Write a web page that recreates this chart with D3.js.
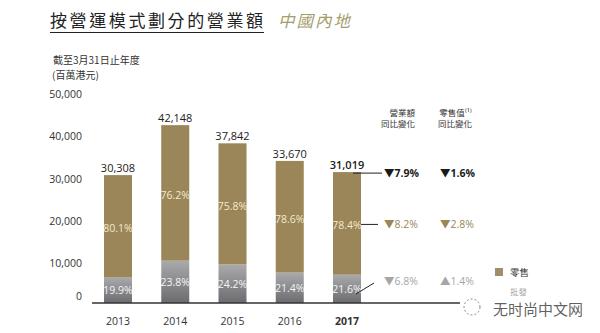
<!DOCTYPE html>
<html><head><meta charset="utf-8">
<script src="https://cdn.jsdelivr.net/npm/d3@7"></script>
<style>
body{margin:0;background:#fff;}
svg{display:block;}
text{font-family:"Open Sans","Noto Sans CJK TC",sans-serif;}
.cjk{font-family:"Noto Sans CJK TC","Noto Sans",sans-serif;}
</style></head>
<body>
<svg id="c" width="600" height="333"></svg>
<script>
const years = ["2013","2014","2015","2016","2017"];
const totals = [30308, 42148, 37842, 33670, 31019];
const retailPct = [80.1, 76.2, 75.8, 78.6, 78.4];
const wholesalePct = [19.9, 23.8, 24.2, 21.4, 21.6];
const yTicks = [0, 10000, 20000, 30000, 40000, 50000];
const changeHeaders = [["營業額","同比變化"],["零售值⁽¹⁾","同比變化"]];
const changeRows = [
  {a:"▼7.9%", b:"▼1.6%"},
  {a:"▼8.2%", b:"▼2.8%"},
  {a:"▼6.8%", b:"▲1.4%"}
];
const legendItems = ["零售","批發"];

const GOLD = "#9a8658";
const svg = d3.select("#c");
const defs = svg.append("defs");
const g1 = defs.append("linearGradient").attr("id","grey").attr("x1",0).attr("y1",0).attr("x2",0).attr("y2",1);
g1.append("stop").attr("offset","0%").attr("stop-color","#aaaaad");
g1.append("stop").attr("offset","100%").attr("stop-color","#6c6c70");

// Title
svg.append("text").attr("class","cjk").attr("x",50).attr("y",27)
  .attr("font-size",17).attr("letter-spacing",2.6).attr("fill","#222").text("按營運模式劃分的營業額");
svg.append("line").attr("x1",50).attr("x2",264).attr("y1",32.5).attr("y2",32.5).attr("stroke","#222").attr("stroke-width",1);
svg.append("text").attr("class","cjk").attr("x",278).attr("y",27).attr("font-size",16.5)
  .attr("font-style","italic").attr("letter-spacing",2).attr("fill","#a59d6c").text("中國內地");

svg.append("text").attr("class","cjk").attr("x",53).attr("y",64).attr("font-size",10).attr("fill","#333").text("截至3月31日止年度");
svg.append("text").attr("class","cjk").attr("x",52).attr("y",79).attr("font-size",10).attr("fill","#333").text("(百萬港元)");

const y = d3.scaleLinear().domain([0,50000]).range([303,92]);
const x = d3.scalePoint().domain(years).range([118,347]);
const bw = 28;

// Y axis
const ax = svg.append("g").attr("transform","translate(82,0)")
  .call(d3.axisLeft(y).tickValues(yTicks).tickSize(0).tickPadding(0).tickFormat(d3.format(",")));
ax.select(".domain").remove();
ax.selectAll("text").attr("font-size",10.5).attr("fill","#333")
  .attr("font-family","'Open Sans',sans-serif")
  .attr("dy", d => d===0 ? "-0.3em" : "0.55em");

const data = years.map((yr,i)=>({yr, total:totals[i], r:retailPct[i], w:wholesalePct[i], wv: totals[i]*wholesalePct[i]/100}));

// wholesale segments
svg.append("g").selectAll("rect").data(data).join("rect")
  .attr("x",d=>x(d.yr)-bw/2).attr("width",bw)
  .attr("y",d=>y(d.wv)).attr("height",d=>y(0)-y(d.wv))
  .attr("fill","url(#grey)");
// retail segments
svg.append("g").selectAll("rect").data(data).join("rect")
  .attr("x",d=>x(d.yr)-bw/2).attr("width",bw)
  .attr("y",d=>y(d.total)).attr("height",d=>y(d.wv)-y(d.total))
  .attr("fill",GOLD);

// totals
svg.append("g").selectAll("text").data(data).join("text")
  .attr("x",d=>x(d.yr)).attr("y",d=>y(d.total)-3).attr("text-anchor","middle")
  .attr("font-size",11).attr("fill","#222").attr("font-weight",(d,i)=>i===4?600:400)
  .text(d=>d3.format(",")(d.total));
// retail pct
svg.append("g").selectAll("text").data(data).join("text")
  .attr("x",d=>x(d.yr)).attr("y",d=>(y(d.total)+y(d.wv))/2+6).attr("text-anchor","middle")
  .attr("font-size",10.5).attr("fill","#f3e9cc")
  .text(d=>d.r.toFixed(1)+"%");
// wholesale pct
svg.append("g").selectAll("text").data(data).join("text")
  .attr("x",d=>x(d.yr)).attr("y",d=>(y(0)+y(d.wv))/2+4).attr("text-anchor","middle")
  .attr("font-size",10.5).attr("fill","#f4f4f4")
  .text(d=>d.w.toFixed(1)+"%");

// year labels
svg.append("g").selectAll("text").data(data).join("text")
  .attr("x",d=>x(d.yr)).attr("y",325).attr("text-anchor","middle")
  .attr("font-size",10.5).attr("fill","#333").attr("font-weight",(d,i)=>i===4?700:400)
  .text(d=>d.yr);

// baseline
svg.append("line").attr("x1",92).attr("x2",460).attr("y1",y(0)).attr("y2",y(0)).attr("stroke","#333").attr("stroke-width",1.3);

// change columns
const last = data[4];
const bx = x(last.yr)+bw/2;
const rowY = [y(last.total)+1, (y(last.total)+y(last.wv))/2+1, y(last.wv)+6];
const rowCol = ["#1a1a1a", GOLD, "#a6a6a8"];
const rowW = [700, 400, 400];
// connector lines
svg.append("line").attr("x1",bx-8).attr("x2",382).attr("y1",rowY[0]).attr("y2",rowY[0]).attr("stroke","#222").attr("stroke-width",1);
svg.append("line").attr("x1",bx).attr("x2",378).attr("y1",rowY[1]).attr("y2",rowY[1]).attr("stroke","#222").attr("stroke-width",1);
svg.append("line").attr("x1",bx-5).attr("x2",374).attr("y1",294).attr("y2",283).attr("stroke","#222").attr("stroke-width",1);

changeHeaders.forEach((h,j)=>{
  const xr = j===0 ? 415 : 472;
  h.forEach((t,k)=>{
    svg.append("text").attr("class","cjk").attr("x",xr).attr("y",116+k*11).attr("text-anchor","end")
      .attr("font-size",8.5).attr("fill","#333").text(t);
  });
});
changeRows.forEach((r,i)=>{
  const yy = i===2 ? 285 : rowY[i]+4;
  [r.a, r.b].forEach((t,j)=>{
    svg.append("text").attr("x", j===0?384:440).attr("y",yy)
      .attr("font-size",10.5).attr("font-weight",rowW[i]).attr("fill",rowCol[i]).text(t);
  });
});

// legend
svg.append("rect").attr("x",495).attr("y",268).attr("width",8).attr("height",8).attr("fill","#a08f68");
svg.append("text").attr("class","cjk").attr("x",510).attr("y",276).attr("font-size",9.5).attr("fill","#333").text(legendItems[0]);
svg.append("text").attr("class","cjk").attr("x",510).attr("y",295).attr("font-size",8.5).attr("fill","#555").attr("fill-opacity",0.6).text(legendItems[1]);

// watermark bottom right
svg.append("circle").attr("cx",472).attr("cy",307).attr("r",8).attr("fill","none").attr("stroke","#888").attr("stroke-dasharray","2,2");
svg.append("text").attr("class","cjk").attr("x",493).attr("y",315).attr("font-size",15).attr("fill","#444").attr("fill-opacity",0.85).text("无时尚中文网");
</script>
</body></html>
